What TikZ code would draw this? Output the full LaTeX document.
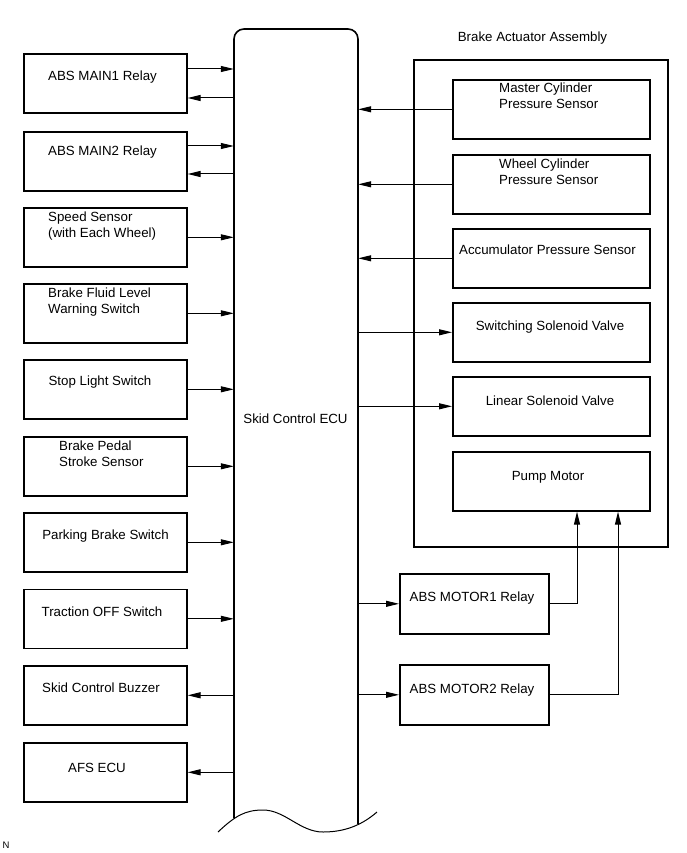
\documentclass[tikz,border=0pt]{standalone}
\usepackage{fontspec}
\setmainfont{Liberation Sans}
\usetikzlibrary{arrows.meta}
\begin{document}
\begin{tikzpicture}[x=1pt,y=-1pt,
  box/.style={draw, line width=1.6pt, inner sep=0pt, anchor=north west},
  lbox/.style={box, minimum width=163pt, minimum height=59pt},
  rbox/.style={box, minimum width=197pt, minimum height=59pt},
  mbox/.style={box, minimum width=149pt, minimum height=60pt},
  arr/.style={-{Triangle[length=13pt,width=6pt]}, line width=1pt},
  txt/.style={inner sep=0pt, font=\fontsize{13.3}{16}\selectfont, anchor=base},
  ltxt/.style={txt, anchor=base west, align=left}]
\useasboundingbox (0,0) rectangle (687,853);
% ECU
\node[inner sep=0pt, minimum width=124pt, minimum height=795pt] (ecu) at (296,426.5) {};
\draw[line width=1.6pt, rounded corners=10pt] (234,818) -- (234,29) -- (358,29) -- (358,824);
\draw[line width=1pt] (218,832) .. controls (235,816) and (245,810) .. (263,810)
  .. controls (285,810) and (300,832) .. (323,832) .. controls (345,832) and (362,825) .. (377,812);
\node[txt] (ecut) at (295.5,423) {Skid Control ECU};
% left boxes
\node[lbox] (lb1) at (23,53) {};
\node[lbox] (lb2) at (23,131) {};
\node[lbox] (lb3) at (23,207) {};
\node[lbox] (lb4) at (23,283) {};
\node[lbox] (lb5) at (23,359) {};
\node[lbox] (lb6) at (23,436) {};
\node[lbox] (lb7) at (23,512) {};
\node[lbox] (lb8) at (23,588.5) {};
\node[lbox] (lb9) at (23,665) {};
\node[lbox] (lb10) at (23,742) {};
\node[txt] (t1) at (102.5,81) {ABS MAIN1 Relay};
\node[txt] (t2) at (102.5,156) {ABS MAIN2 Relay};
\node[ltxt] (t3) at (48,237) {Speed Sensor\\(with Each Wheel)};
\node[ltxt] (t4) at (48,313) {Brake Fluid Level\\Warning Switch};
\node[txt] (t5) at (100,385) {Stop Light Switch};
\node[ltxt] (t6) at (59,466) {Brake Pedal\\Stroke Sensor};
\node[txt] (t7) at (105.5,539) {Parking Brake Switch};
\node[txt] (t8) at (102,616) {Traction OFF Switch};
\node[txt] (t9) at (101,692) {Skid Control Buzzer};
\node[txt] (t10) at (97,772) {AFS ECU};
% left connectors
\draw[arr] (lb1.east |- 0,69) -- (ecu.west |- 0,69);
\draw[arr] (ecu.west |- 0,98) -- (lb1.east |- 0,98);
\draw[arr] (lb2.east |- 0,146) -- (ecu.west |- 0,146);
\draw[arr] (ecu.west |- 0,174) -- (lb2.east |- 0,174);
\draw[arr] (lb3.east) -- (lb3.east -| ecu.west);
\draw[arr] (lb4.east) -- (lb4.east -| ecu.west);
\draw[arr] (lb5.east) -- (lb5.east -| ecu.west);
\draw[arr] (lb6.east) -- (lb6.east -| ecu.west);
\draw[arr] (lb7.east) -- (lb7.east -| ecu.west);
\draw[arr] (lb8.east) -- (lb8.east -| ecu.west);
\draw[arr] (lb9.east -| ecu.west) -- (lb9.east);
\draw[arr] (lb10.east -| ecu.west) -- (lb10.east);
% brake actuator assembly
\node[box, minimum width=254pt, minimum height=487pt] (baa) at (413,59) {};
\node[txt] (baat) at (532.5,42) {Brake Actuator Assembly};
\node[rbox] (rb1) at (452,79) {};
\node[rbox] (rb2) at (452,154) {};
\node[rbox] (rb3) at (452,228) {};
\node[rbox] (rb4) at (452,302) {};
\node[rbox] (rb5) at (452,376) {};
\node[rbox] (pm) at (452,451) {};
\node[ltxt] (r1) at (499,109) {Master Cylinder\\Pressure Sensor};
\node[ltxt] (r2) at (499,184) {Wheel Cylinder\\Pressure Sensor};
\node[txt] (r3) at (547.5,254) {Accumulator Pressure Sensor};
\node[txt] (r4) at (550,330) {Switching Solenoid Valve};
\node[txt] (r5) at (550,405) {Linear Solenoid Valve};
\node[txt] (r6) at (548,480) {Pump Motor};
\draw[arr] (rb1.west) -- (rb1.west -| ecu.east);
\draw[arr] (rb2.west) -- (rb2.west -| ecu.east);
\draw[arr] (rb3.west) -- (rb3.west -| ecu.east);
\draw[arr] (rb4.west -| ecu.east) -- (rb4.west);
\draw[arr] (rb5.west -| ecu.east) -- (rb5.west);
% motor relays
\node[mbox] (mr1) at (399,573) {};
\node[mbox] (mr2) at (399,664) {};
\node[txt] (m1t) at (472,601) {ABS MOTOR1 Relay};
\node[txt] (m2t) at (472,693) {ABS MOTOR2 Relay};
\draw[arr] (mr1.west -| ecu.east) -- (mr1.west);
\draw[arr] (mr2.west -| ecu.east) -- (mr2.west);
\draw[arr] (mr1.east) -- (mr1.east -| 577,0) -- (577,0 |- pm.south);
\draw[arr] (mr2.east) -- (mr2.east -| 618,0) -- (618,0 |- pm.south);
% corner mark
\node[inner sep=0pt, font=\fontsize{9.5}{11}\selectfont] (nmark) at (6,845) {N};
\end{tikzpicture}
\end{document}
